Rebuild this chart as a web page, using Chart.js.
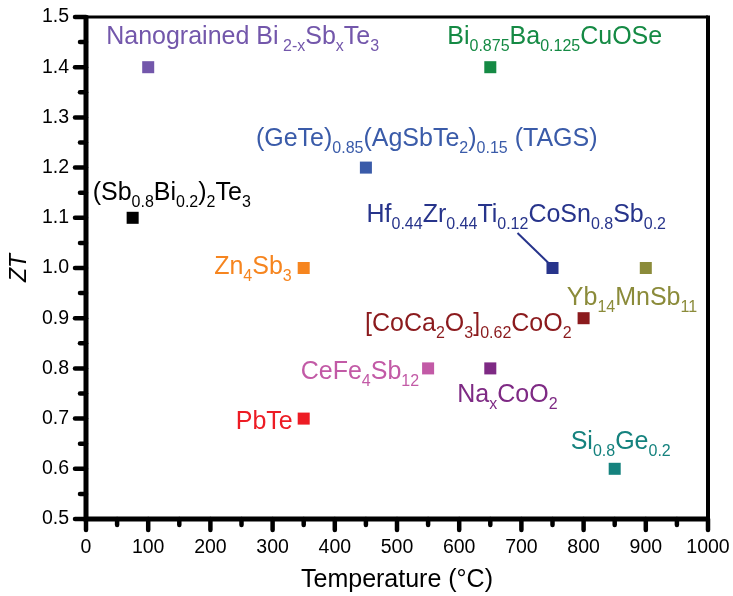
<!DOCTYPE html>
<html>
<head>
<meta charset="utf-8">
<script src="https://cdn.jsdelivr.net/npm/chart.js@4.4.0/dist/chart.umd.min.js"></script>
<style>
  html, body { margin: 0; padding: 0; background: #fff; }
</style>
</head>
<body>
<canvas id="ztChart" width="733" height="596"></canvas>
<script>
// 材料, 温度 (°C), ZT
const materials = [
    '(Sb0.8Bi0.2)2Te3', 'Nanograined Bi2-xSbxTe3', 'Zn4Sb3', 'PbTe',
    '(GeTe)0.85(AgSbTe2)0.15 (TAGS)', 'CeFe4Sb12', 'Bi0.875Ba0.125CuOSe', 'NaxCoO2',
    'Hf0.44Zr0.44Ti0.12CoSn0.8Sb0.2', '[CoCa2O3]0.62CoO2', 'Yb14MnSb11', 'Si0.8Ge0.2'
];
const temperatures = [75, 100, 350, 350, 450, 550, 650, 650, 750, 800, 900, 850];
const ztValues = [1.1, 1.4, 1.0, 0.7, 1.2, 0.8, 1.4, 0.8, 1.0, 0.9, 1.0, 0.6];

// label text split into [text, subscript?]
const labelParts = [
    [['(Sb', 0], ['0.8', 1], ['Bi', 0], ['0.2', 1], [')', 0], ['2', 1], ['Te', 0], ['3', 1]],
    [['Nanograined Bi', 0], [' 2-x', 1], ['Sb', 0], ['x', 1], ['Te', 0], ['3', 1]],
    [['Zn', 0], ['4', 1], ['Sb', 0], ['3', 1]],
    [['PbTe', 0]],
    [['(GeTe)', 0], ['0.85', 1], ['(AgSbTe', 0], ['2', 1], [')', 0], ['0.15', 1], [' (TAGS)', 0]],
    [['CeFe', 0], ['4', 1], ['Sb', 0], ['12', 1]],
    [['Bi', 0], ['0.875', 1], ['Ba', 0], ['0.125', 1], ['CuOSe', 0]],
    [['Na', 0], ['x', 1], ['CoO', 0], ['2', 1]],
    [['Hf', 0], ['0.44', 1], ['Zr', 0], ['0.44', 1], ['Ti', 0], ['0.12', 1], ['CoSn', 0], ['0.8', 1], ['Sb', 0], ['0.2', 1]],
    [['[CoCa', 0], ['2', 1], ['O', 0], ['3', 1], [']', 0], ['0.62', 1], ['CoO', 0], ['2', 1]],
    [['Yb', 0], ['14', 1], ['MnSb', 0], ['11', 1]],
    [['Si', 0], ['0.8', 1], ['Ge', 0], ['0.2', 1]]
];

const xTickValues = [0, 100, 200, 300, 400, 500, 600, 700, 800, 900, 1000];
const yTickValues = [0.5, 0.6, 0.7, 0.8, 0.9, 1.0, 1.1, 1.2, 1.3, 1.4, 1.5];

// 颜色和标签位置 (像素偏移)
const markerColors = [
    '#000000', '#7357ab', '#f6851f', '#ed1c24', '#3a5ba9', '#c25aa6',
    '#158a44', '#7e2a84', '#27348b', '#8b1a1d', '#8b8b3a', '#15827e'
];
const labelLayout = [
    { dx: -40, dy: -18, align: 'left' },
    { dx: -42, dy: -23, align: 'left' },
    { dx: -12, dy: 6, align: 'right' },
    { dx: -11, dy: 10, align: 'right' },
    { dx: -110, dy: -22, align: 'left' },
    { dx: -9, dy: 11, align: 'right' },
    { dx: -43, dy: -23, align: 'left' },
    { dx: -33, dy: 34, align: 'left' },
    { dx: -186, dy: -46, align: 'left' },
    { dx: -12, dy: 13, align: 'right' },
    { dx: -79, dy: 37, align: 'left' },
    { dx: -44, dy: -20, align: 'left' }
];

const FONT = '"Liberation Sans", Arial, sans-serif';
const mainFont = '25px ' + FONT;
const subFont = '16px ' + FONT;

const labelPlugin = {
    id: 'materialLabels',
    afterDatasetsDraw(chart) {
        const ctx = chart.ctx;
        const meta = chart.getDatasetMeta(0);
        ctx.save();
        ctx.textBaseline = 'alphabetic';
        ctx.textAlign = 'left';
        meta.data.forEach((pt, i) => {
            const parts = labelParts[i];
            const lay = labelLayout[i];
            let w = 0;
            parts.forEach(([t, sub]) => {
                ctx.font = sub ? subFont : mainFont;
                w += ctx.measureText(t).width;
            });
            let x = pt.x + lay.dx;
            if (lay.align === 'right') x -= w;
            const y = pt.y + lay.dy;
            ctx.fillStyle = markerColors[i];
            parts.forEach(([t, sub]) => {
                ctx.font = sub ? subFont : mainFont;
                ctx.fillText(t, x, sub ? y + 7 : y);
                x += ctx.measureText(t).width;
            });
        });
        // Hf 标签的引线
        const hf = meta.data[8];
        ctx.strokeStyle = markerColors[8];
        ctx.lineWidth = 2;
        ctx.beginPath();
        ctx.moveTo(hf.x - 35, hf.y - 35);
        ctx.lineTo(hf.x - 4, hf.y - 5);
        ctx.stroke();
        ctx.restore();
    }
};

const framePlugin = {
    id: 'frame',
    beforeDatasetsDraw(chart) {
        const ctx = chart.ctx;
        const a = chart.chartArea;
        const xs = chart.scales.x;
        const ys = chart.scales.y;
        ctx.save();
        ctx.strokeStyle = '#000';
        ctx.lineCap = 'round';
        // ticks (major every 100 / 0.1, minor halfway)
        ctx.lineWidth = 4.5;
        for (let v = 0; v <= 1000; v += 50) {
            const px = xs.getPixelForValue(v);
            const len = v % 100 === 0 ? 11 : 6;
            ctx.beginPath();
            ctx.moveTo(px, a.bottom);
            ctx.lineTo(px, a.bottom + len);
            ctx.stroke();
        }
        for (let k = 0; k <= 20; k++) {
            const py = ys.getPixelForValue(0.5 + k * 0.05);
            const len = k % 2 === 0 ? 11 : 6;
            ctx.beginPath();
            ctx.moveTo(a.left, py);
            ctx.lineTo(a.left - len, py);
            ctx.stroke();
        }
        ctx.lineCap = 'butt';
        // top and right
        ctx.lineWidth = 3;
        ctx.beginPath();
        ctx.moveTo(a.left, a.top);
        ctx.lineTo(a.right, a.top);
        ctx.stroke();
        ctx.lineWidth = 4;
        ctx.beginPath();
        ctx.moveTo(a.right, a.top - 1.5);
        ctx.lineTo(a.right, a.bottom);
        ctx.stroke();
        // left and bottom axes
        ctx.lineWidth = 5;
        ctx.beginPath();
        ctx.moveTo(a.left, a.top - 1.5);
        ctx.lineTo(a.left, a.bottom);
        ctx.lineTo(a.right + 2, a.bottom);
        ctx.stroke();
        ctx.restore();
    }
};

const chart = new Chart(document.getElementById('ztChart'), {
    type: 'scatter',
    data: {
        datasets: [{
            label: 'ZT',
            data: temperatures.map((t, i) => ({ x: t, y: ztValues[i] })),
            pointStyle: 'rect',
            pointRadius: 8.5,
            pointHoverRadius: 8.5,
            pointBorderWidth: 0,
            pointBackgroundColor: markerColors,
            pointBorderColor: markerColors
        }]
    },
    options: {
        responsive: false,
        animation: false,
        layout: { padding: { top: 17, right: 25, left: 0, bottom: 0 } },
        plugins: {
            legend: { display: false },
            tooltip: { enabled: false }
        },
        scales: {
            x: {
                type: 'linear',
                position: 'bottom',
                min: 0,
                max: 1000,
                afterBuildTicks: s => { s.ticks = xTickValues.map(v => ({ value: v })); },
                afterFit: s => {
                    s.height = 77;
                    s.paddingLeft = 0;
                    s.paddingRight = 0;
                },
                grid: { display: false, drawTicks: false },
                border: { display: false },
                ticks: {
                    color: '#000',
                    font: { family: FONT, size: 19.5 },
                    padding: 17,
                    maxRotation: 0,
                    callback: v => String(v)
                },
                title: {
                    display: true,
                    text: 'Temperature (°C)',
                    color: '#000',
                    font: { family: FONT, size: 25 },
                    padding: { top: 0, bottom: 1 }
                }
            },
            y: {
                type: 'linear',
                min: 0.5,
                max: 1.5,
                afterBuildTicks: s => { s.ticks = yTickValues.map(v => ({ value: v })); },
                afterFit: s => {
                    s.width = 86;
                    s.paddingTop = 0;
                    s.paddingBottom = 0;
                },
                grid: { display: false, drawTicks: false },
                border: { display: false },
                ticks: {
                    color: '#000',
                    font: { family: FONT, size: 19.5 },
                    padding: 17,
                    callback: v => v.toFixed(1)
                },
                title: {
                    display: true,
                    text: 'ZT',
                    color: '#000',
                    font: { family: FONT, size: 23, style: 'italic' },
                    padding: { top: 6, bottom: 4 }
                }
            }
        }
    },
    plugins: [framePlugin, labelPlugin]
});
</script>
</body>
</html>
